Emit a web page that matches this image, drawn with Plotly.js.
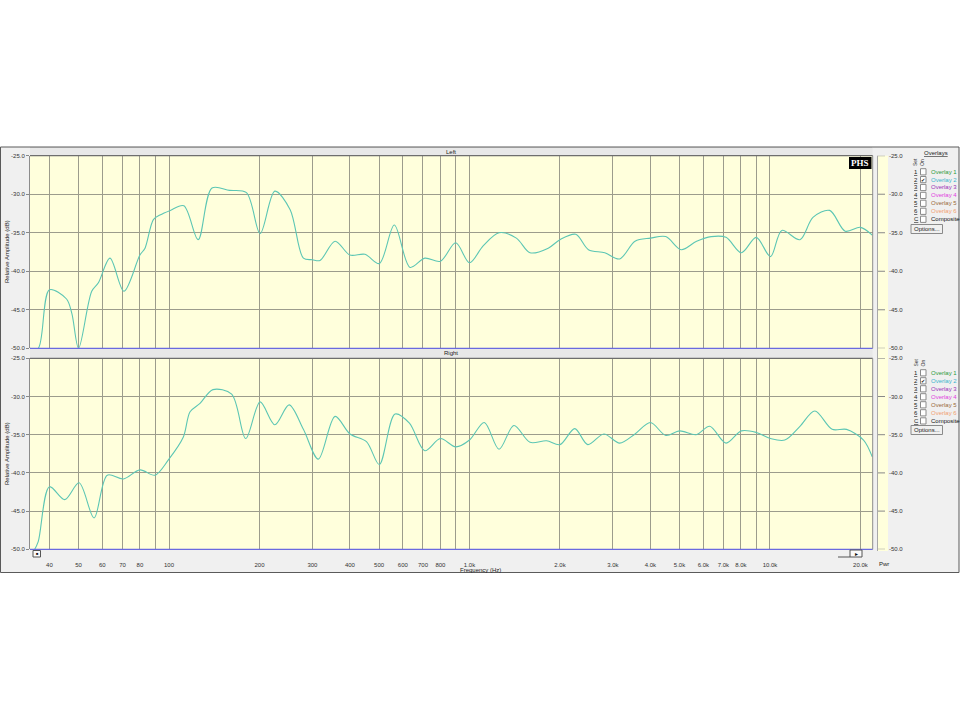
<!DOCTYPE html>
<html><head><meta charset="utf-8">
<script src="https://cdn.plot.ly/plotly-3.0.1.min.js"></script>
<style>html,body{margin:0;padding:0;background:#fff}</style>
</head><body><div id="chart" style="width:960px;height:720px"></div>
<script>
// ---------------- data ----------------
const leftFreq = [34.5, 36.7, 40, 45.6, 47.5, 50, 55.3, 58.2, 63.6, 70.8, 80, 83.2, 88.7, 93.3, 101, 112, 125, 139, 159, 181, 201, 225, 253, 280, 300, 318, 357, 400, 449, 501, 562, 634, 710, 800, 900, 1000, 1110, 1254, 1432, 1590, 1828, 2000, 2257, 2488, 2820, 3160, 3555, 4000, 4500, 5060, 5700, 6370, 7140, 8030, 9000, 10040, 10950, 12580, 13900, 15800, 17800, 20000, 21900];
const leftDb   = [-50, -50, -42.4, -43.6, -45.5, -50, -42.6, -41.5, -38.3, -42.6, -37.9, -37.0, -33.3, -32.7, -32.1, -31.5, -35.9, -29.2, -29.5, -29.8, -35.1, -29.6, -32.0, -38.3, -38.5, -38.6, -36.1, -37.9, -37.8, -39.0, -34.0, -39.5, -38.3, -38.7, -36.3, -38.9, -36.7, -35.0, -35.7, -37.6, -37.0, -35.9, -35.2, -37.2, -37.6, -38.4, -36.1, -35.7, -35.5, -37.2, -36.1, -35.5, -35.6, -37.6, -35.6, -38.1, -34.7, -35.9, -33.0, -32.1, -34.8, -34.3, -35.3];

const rightFreq = [35.5, 36.7, 40, 45, 50.2, 56.3, 62.3, 70.5, 80, 89.8, 99.5, 111.6, 117.5, 126.8, 140, 161.6, 180, 201, 225, 251, 280, 314, 357, 400, 454, 501, 565, 631, 710, 800, 900, 1000, 1120, 1254, 1405, 1590, 1805, 2000, 2240, 2475, 2800, 3160, 3555, 4000, 4500, 5000, 5680, 6300, 7140, 8030, 9000, 10040, 11200, 12580, 14100, 16100, 17980, 20480, 21900];
const rightDb   = [-50.2, -49.0, -41.8, -43.5, -41.3, -45.9, -40.3, -40.8, -39.6, -40.3, -38.3, -35.3, -32.0, -30.9, -29.1, -29.7, -35.5, -30.7, -33.7, -31.1, -34.3, -38.2, -32.6, -34.9, -35.9, -38.9, -32.3, -33.5, -37.1, -35.5, -36.6, -35.7, -33.4, -36.9, -33.8, -36.0, -35.8, -36.3, -34.2, -36.3, -34.9, -36.1, -34.9, -33.4, -35.1, -34.5, -35.0, -33.9, -36.1, -34.5, -34.7, -35.5, -35.7, -33.9, -31.9, -34.3, -34.3, -35.7, -37.9];

const xTickVals = [40, 50, 60, 70, 80, 90, 100, 200, 300, 400, 500, 600, 700, 800, 900, 1000, 2000, 3000, 4000, 5000, 6000, 7000, 8000, 9000, 10000, 20000];
const xTickText = ["40", "50", "60", "70", "80", "", "100", "200", "300", "400", "500", "600", "700", "800", "", "1.0k", "2.0k", "3.0k", "4.0k", "5.0k", "6.0k", "7.0k", "8.0k", "", "10.0k", "20.0k"];
const yTickVals = [-50, -45, -40, -35, -30, -25];
const yTickText = ["-50.0", "-45.0", "-40.0", "-35.0", "-30.0", "-25.0"];
const panelTitles = ["Left", "Right"];
const overlayNames = ["Overlay 1", "Overlay 2", "Overlay 3", "Overlay 4", "Overlay 5", "Overlay 6", "Composite"];
const overlayKeys = ["1", "2", "3", "4", "5", "6", "C"];
const overlayColors = ["#2e9a3c", "#3bb4cc", "#9a30b8", "#e03ce0", "#9a6a3a", "#f0a070", "#111111"];
const overlayChecked = [false, true, false, false, false, false, false];

// ---------------- layout helpers ----------------
const W = 960, H = 720;
const PX = x => x / W, PY = y => 1 - y / H;
const FONT = "Liberation Sans, Arial, sans-serif";
const xDom = [PX(30), PX(872.7)];
const yTop = [PY(348.3), PY(155.7)];
const yBot = [PY(549.3), PY(358.3)];
const xRange = [Math.log10(34.46), Math.log10(21970)];
const GRID = "#9c9c8c";
const LINE = "#5cc6b4";

const traces = [
  {x: leftFreq, y: leftDb, xaxis: "x", yaxis: "y", type: "scatter", mode: "lines",
   line: {color: LINE, width: 1.1, shape: "spline", smoothing: 0.9}, hoverinfo: "skip"},
  {x: rightFreq, y: rightDb, xaxis: "x2", yaxis: "y2", type: "scatter", mode: "lines",
   line: {color: LINE, width: 1.1, shape: "spline", smoothing: 0.9}, hoverinfo: "skip"}
];

function xAxis(anchor, labels) {
  return {
    domain: xDom, anchor: anchor, type: "log", range: xRange,
    tickmode: "array", tickvals: xTickVals, ticktext: labels ? xTickText : xTickVals.map(() => ""),
    showticklabels: labels, ticks: labels ? "outside" : "", ticklen: 9, tickcolor: "rgba(0,0,0,0)",
    tickfont: {family: FONT, size: 6, color: "#333"},
    showgrid: true, gridcolor: GRID, gridwidth: 1, zeroline: false, showline: false, fixedrange: true
  };
}
function yAxis(dom, anchor) {
  return {
    domain: dom, anchor: anchor, range: [-50, -25],
    tickmode: "array", tickvals: yTickVals, ticktext: yTickText,
    ticks: "outside", ticklen: 3, tickcolor: "#888",
    tickfont: {family: FONT, size: 6, color: "#333"},
    showgrid: true, gridcolor: GRID, gridwidth: 1, zeroline: false,
    showline: true, linecolor: "#8c8c8c", linewidth: 1, fixedrange: true
  };
}

const shapes = [];
const rect = (x0, y0, x1, y1, fill, line, layer) => shapes.push({
  type: "rect", xref: "paper", yref: "paper", x0: PX(x0), x1: PX(x1), y0: PY(y1), y1: PY(y0),
  fillcolor: fill, line: line || {width: 0}, layer: layer || "below"});
const hline = (x0, x1, y, color, w) => shapes.push({
  type: "line", xref: "paper", yref: "paper", x0: PX(x0), x1: PX(x1), y0: PY(y), y1: PY(y),
  line: {color: color, width: w || 1}, layer: "above"});
const vline = (x, y0, y1, color, w) => shapes.push({
  type: "line", xref: "paper", yref: "paper", x0: PX(x), x1: PX(x), y0: PY(y0), y1: PY(y1),
  line: {color: color, width: w || 1}, layer: "above"});

// window frame
rect(0.5, 147, 959, 572.5, "#f0f0f0", {color: "#5a5a5a", width: 1});
// title bands
rect(30, 147.5, 872.7, 155.7, "#e8e8e8");
rect(30, 349, 872.7, 358.3, "#e8e8e8");
// plot areas
rect(30, 155.7, 872.7, 348.3, "#ffffdc");
rect(30, 358.3, 872.7, 549.3, "#ffffdc");
// power strip
rect(877.5, 155.7, 888, 551, "#ffffdc");
vline(877.5, 155.7, 551, "#a8a8a8");
// borders
hline(30, 872.7, 155.7, "#6e6e6e", 1.2);
hline(30, 872.7, 358.3, "#6e6e6e", 1.2);
hline(30, 872.7, 348.3, "#6a6ae0", 1.3);
hline(30, 872.7, 549.3, "#6a6ae0", 1.3);
vline(872.7, 155.7, 348.3, "#8c8c8c");
vline(872.7, 358.3, 549.3, "#8c8c8c");
hline(30, 872.7, 147.5, "#9a9a9a", 1);
// PHS logo
rect(849, 157, 871.5, 169, "#000000", {width: 0}, "above");
// scroll boxes
rect(33, 550.5, 40.5, 557, "#fafafa", {color: "#555", width: 1}, "above");
rect(850, 550, 862, 557, "#fafafa", {color: "#555", width: 1}, "above");
hline(838, 850, 557, "#555", 1);
// overlay checkboxes
function legendBlock(rowY) {
  overlayKeys.forEach((k, i) => {
    rect(920.5, rowY[i] - 3, 926, rowY[i] + 3.2, "#ffffff", {color: "#8a8a8a", width: 1}, "above");
  });
}
const rowsTop = [171.7, 179.5, 187.4, 195.3, 203.2, 211.2, 219.2];
const rowsBot = [372.7, 380.7, 388.7, 396.7, 404.7, 412.7, 420.8];
legendBlock(rowsTop);
legendBlock(rowsBot);
rect(911, 224.5, 942.5, 233.5, "#f0f0f0", {color: "#8a8a8a", width: 1}, "above");
rect(911, 425.5, 942.5, 434.5, "#f0f0f0", {color: "#8a8a8a", width: 1}, "above");

const ann = [];
const txt = (x, y, text, opts) => ann.push(Object.assign({
  xref: "paper", yref: "paper", x: PX(x), y: PY(y), text: text, showarrow: false,
  xanchor: "center", yanchor: "middle", font: {family: FONT, size: 6, color: "#222"}}, opts || {}));

// right-hand amplitude scale (drawn from the same tick arrays through each panel's y axis)
["y", "y2"].forEach(yr => {
  yTickVals.forEach((v, i) => {
    shapes.push({type: "line", xref: "paper", yref: yr, x0: PX(878), x1: PX(885), y0: v, y1: v,
                 line: {color: "#888", width: 1}, layer: "above"});
    ann.push({xref: "paper", yref: yr, x: PX(887), y: v, text: yTickText[i], showarrow: false,
              xanchor: "left", yanchor: "middle", font: {family: FONT, size: 6, color: "#333"}});
  });
});

txt(451, 151.5, panelTitles[0]);
txt(451, 353.5, panelTitles[1]);
txt(7, 252, "Relative Amplitude (dB)", {textangle: -90});
txt(7, 454, "Relative Amplitude (dB)", {textangle: -90});
txt(480, 569.5, "Frequency (Hz)");
txt(860.2, 163, "<b>PHS</b>", {font: {family: "Liberation Serif, DejaVu Serif, serif", size: 9, color: "#fff"}});
txt(883.5, 563.5, "Pwr");
txt(37, 553.8, "■", {font: {family: FONT, size: 4, color: "#111"}});
txt(856, 553.5, "▸", {font: {family: "DejaVu Sans", size: 6, color: "#111"}});
txt(936, 153, "<u>Overlays</u>");
function legendText(rowY, setY) {
  txt(915.5, setY, "Set", {textangle: -90, font: {family: FONT, size: 5, color: "#333"}});
  txt(922.5, setY, "On", {textangle: -90, font: {family: FONT, size: 5, color: "#333"}});
  overlayKeys.forEach((k, i) => {
    txt(916, rowY[i], "<u>" + k + "</u>");
    txt(928.5, rowY[i], overlayNames[i], {xanchor: "left", font: {family: FONT, size: 6, color: overlayColors[i]}});
    if (overlayChecked[i]) txt(923.3, rowY[i], "✔", {font: {family: "DejaVu Sans", size: 5, color: "#111"}});
  });
}
legendText(rowsTop, 162.5);
legendText(rowsBot, 363);
txt(926.5, 229, "Options...");
txt(926.5, 430, "Options...");

const layout = {
  width: W, height: H, margin: {l: 0, r: 0, t: 0, b: 0},
  paper_bgcolor: "#ffffff", plot_bgcolor: "rgba(0,0,0,0)", showlegend: false,
  xaxis: xAxis("y", false), xaxis2: xAxis("y2", true),
  yaxis: yAxis(yTop, "x"), yaxis2: yAxis(yBot, "x2"),
  shapes: shapes, annotations: ann
};
Plotly.newPlot("chart", traces, layout, {staticPlot: true, displayModeBar: false});
</script></body></html>
